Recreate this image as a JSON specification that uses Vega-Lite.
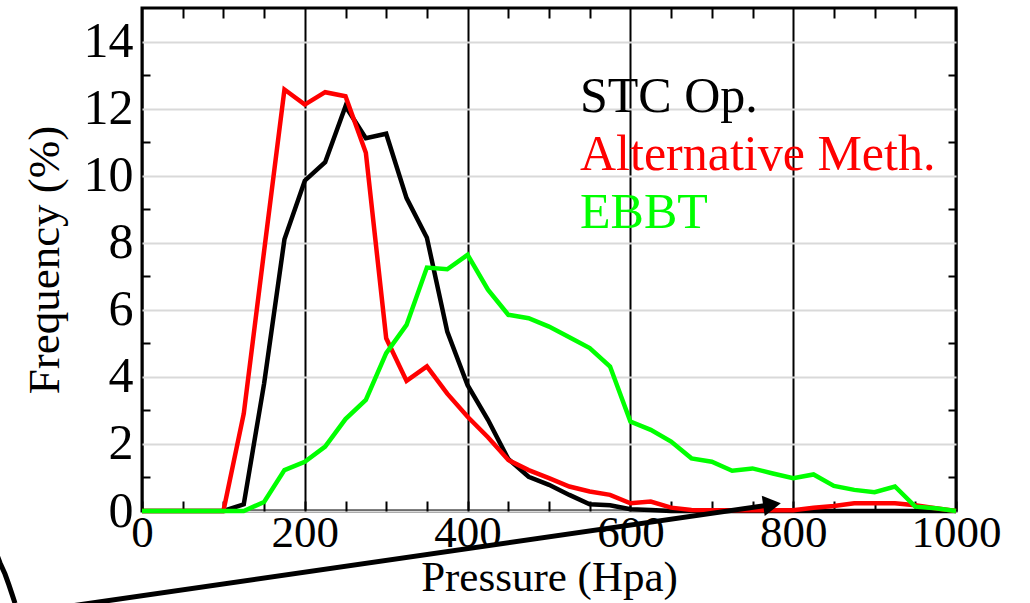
{
  "$schema": "https://vega.github.io/schema/vega-lite/v6.json",
  "width": 814,
  "height": 503,
  "autosize": {"type": "none"},
  "padding": {"left": 142, "top": 8, "right": 74, "bottom": 92},
  "background": "white",
  "config": {"view": {"stroke": "black", "strokeWidth": 3}, "font": "Liberation Serif"},
  "datasets": {
    "freq": [
      {"p":0,"f":0,"s":"STC Op."},{"p":25,"f":0,"s":"STC Op."},{"p":50,"f":0,"s":"STC Op."},{"p":75,"f":0,"s":"STC Op."},{"p":100,"f":0,"s":"STC Op."},{"p":125,"f":0.2,"s":"STC Op."},{"p":150,"f":3.8,"s":"STC Op."},{"p":175,"f":8.1,"s":"STC Op."},{"p":200,"f":9.85,"s":"STC Op."},{"p":225,"f":10.4,"s":"STC Op."},{"p":250,"f":12.07,"s":"STC Op."},{"p":275,"f":11.12,"s":"STC Op."},{"p":300,"f":11.25,"s":"STC Op."},{"p":325,"f":9.33,"s":"STC Op."},{"p":350,"f":8.15,"s":"STC Op."},{"p":375,"f":5.35,"s":"STC Op."},{"p":400,"f":3.75,"s":"STC Op."},{"p":425,"f":2.72,"s":"STC Op."},{"p":450,"f":1.55,"s":"STC Op."},{"p":475,"f":1.02,"s":"STC Op."},{"p":500,"f":0.78,"s":"STC Op."},{"p":525,"f":0.48,"s":"STC Op."},{"p":550,"f":0.2,"s":"STC Op."},{"p":575,"f":0.17,"s":"STC Op."},{"p":600,"f":0.05,"s":"STC Op."},{"p":625,"f":0.03,"s":"STC Op."},{"p":650,"f":0,"s":"STC Op."},{"p":675,"f":0,"s":"STC Op."},{"p":700,"f":0,"s":"STC Op."},{"p":725,"f":0,"s":"STC Op."},{"p":750,"f":0,"s":"STC Op."},{"p":775,"f":0,"s":"STC Op."},{"p":800,"f":0,"s":"STC Op."},{"p":825,"f":0,"s":"STC Op."},{"p":850,"f":0,"s":"STC Op."},{"p":875,"f":0,"s":"STC Op."},{"p":900,"f":0,"s":"STC Op."},{"p":925,"f":0,"s":"STC Op."},{"p":950,"f":0,"s":"STC Op."},{"p":975,"f":0,"s":"STC Op."},{"p":1000,"f":0,"s":"STC Op."},
      {"p":0,"f":0,"s":"Alternative Meth."},{"p":25,"f":0,"s":"Alternative Meth."},{"p":50,"f":0,"s":"Alternative Meth."},{"p":75,"f":0,"s":"Alternative Meth."},{"p":100,"f":0,"s":"Alternative Meth."},{"p":125,"f":2.9,"s":"Alternative Meth."},{"p":150,"f":7.75,"s":"Alternative Meth."},{"p":175,"f":12.57,"s":"Alternative Meth."},{"p":200,"f":12.12,"s":"Alternative Meth."},{"p":225,"f":12.49,"s":"Alternative Meth."},{"p":250,"f":12.37,"s":"Alternative Meth."},{"p":275,"f":10.68,"s":"Alternative Meth."},{"p":300,"f":5.15,"s":"Alternative Meth."},{"p":325,"f":3.88,"s":"Alternative Meth."},{"p":350,"f":4.31,"s":"Alternative Meth."},{"p":375,"f":3.5,"s":"Alternative Meth."},{"p":400,"f":2.81,"s":"Alternative Meth."},{"p":425,"f":2.2,"s":"Alternative Meth."},{"p":450,"f":1.52,"s":"Alternative Meth."},{"p":475,"f":1.22,"s":"Alternative Meth."},{"p":500,"f":0.98,"s":"Alternative Meth."},{"p":525,"f":0.73,"s":"Alternative Meth."},{"p":550,"f":0.58,"s":"Alternative Meth."},{"p":575,"f":0.48,"s":"Alternative Meth."},{"p":600,"f":0.23,"s":"Alternative Meth."},{"p":625,"f":0.28,"s":"Alternative Meth."},{"p":650,"f":0.1,"s":"Alternative Meth."},{"p":675,"f":0.03,"s":"Alternative Meth."},{"p":700,"f":0.02,"s":"Alternative Meth."},{"p":725,"f":0.02,"s":"Alternative Meth."},{"p":750,"f":0.02,"s":"Alternative Meth."},{"p":775,"f":0.02,"s":"Alternative Meth."},{"p":800,"f":0.02,"s":"Alternative Meth."},{"p":825,"f":0.1,"s":"Alternative Meth."},{"p":850,"f":0.15,"s":"Alternative Meth."},{"p":875,"f":0.23,"s":"Alternative Meth."},{"p":900,"f":0.23,"s":"Alternative Meth."},{"p":925,"f":0.23,"s":"Alternative Meth."},{"p":950,"f":0.17,"s":"Alternative Meth."},{"p":975,"f":0.08,"s":"Alternative Meth."},{"p":1000,"f":0,"s":"Alternative Meth."},
      {"p":0,"f":0,"s":"EBBT"},{"p":25,"f":0,"s":"EBBT"},{"p":50,"f":0,"s":"EBBT"},{"p":75,"f":0,"s":"EBBT"},{"p":100,"f":0,"s":"EBBT"},{"p":125,"f":0,"s":"EBBT"},{"p":150,"f":0.27,"s":"EBBT"},{"p":175,"f":1.22,"s":"EBBT"},{"p":200,"f":1.47,"s":"EBBT"},{"p":225,"f":1.92,"s":"EBBT"},{"p":250,"f":2.74,"s":"EBBT"},{"p":275,"f":3.31,"s":"EBBT"},{"p":300,"f":4.71,"s":"EBBT"},{"p":325,"f":5.55,"s":"EBBT"},{"p":350,"f":7.26,"s":"EBBT"},{"p":375,"f":7.21,"s":"EBBT"},{"p":400,"f":7.64,"s":"EBBT"},{"p":425,"f":6.6,"s":"EBBT"},{"p":450,"f":5.85,"s":"EBBT"},{"p":475,"f":5.75,"s":"EBBT"},{"p":500,"f":5.5,"s":"EBBT"},{"p":525,"f":5.18,"s":"EBBT"},{"p":550,"f":4.86,"s":"EBBT"},{"p":575,"f":4.31,"s":"EBBT"},{"p":600,"f":2.67,"s":"EBBT"},{"p":625,"f":2.42,"s":"EBBT"},{"p":650,"f":2.07,"s":"EBBT"},{"p":675,"f":1.57,"s":"EBBT"},{"p":700,"f":1.47,"s":"EBBT"},{"p":725,"f":1.2,"s":"EBBT"},{"p":750,"f":1.27,"s":"EBBT"},{"p":775,"f":1.12,"s":"EBBT"},{"p":800,"f":0.98,"s":"EBBT"},{"p":825,"f":1.09,"s":"EBBT"},{"p":850,"f":0.75,"s":"EBBT"},{"p":875,"f":0.63,"s":"EBBT"},{"p":900,"f":0.56,"s":"EBBT"},{"p":925,"f":0.73,"s":"EBBT"},{"p":950,"f":0.13,"s":"EBBT"},{"p":975,"f":0.08,"s":"EBBT"},{"p":1000,"f":0,"s":"EBBT"}
    ],
    "annot": [
      {"ax":-100.7,"ay":-2.88,"part":"arrow"},
      {"ax":774,"ay":0.19,"part":"arrow"},
      {"ax":-178.1,"ay":-1.31,"part":"arc"},
      {"ax":-174.4,"ay":-1.55,"part":"arc"},
      {"ax":-168.3,"ay":-1.88,"part":"arc"},
      {"ax":-163.4,"ay":-2.21,"part":"arc"},
      {"ax":-159.7,"ay":-2.48,"part":"arc"},
      {"ax":-156,"ay":-2.75,"part":"arc"}
    ],
    "head": [{"ax":774,"ay":0.19}]
  },
  "resolve": {"axis": {"x": "independent", "y": "independent"}},
  "layer": [
    {
      "data": {"name": "freq"},
      "mark": {"type": "line", "strokeJoin": "miter"},
      "encoding": {
        "x": {
          "field": "p", "type": "quantitative",
          "scale": {"domain": [0, 1000], "nice": false, "zero": false},
          "axis": {
            "orient": "bottom",
            "values": [0,50,100,150,200,250,300,350,400,450,500,550,600,650,700,750,800,850,900,950,1000],
            "format": "d",
            "labelExpr": "datum.value % 200 === 0 ? datum.label : ''",
            "labelFont": "Liberation Serif", "labelFontSize": 45, "labelColor": "black",
            "labelPadding": 9, "labelOverlap": false, "labelFlush": false,
            "domain": false,
            "grid": true,
            "gridColor": {"condition": {"test": "datum.value % 200 === 0", "value": "black"}, "value": "transparent"},
            "gridWidth": 2, "gridOpacity": 1,
            "ticks": true, "tickSize": -10, "tickWidth": 2, "tickColor": "black",
            "title": "Pressure (Hpa)",
            "titleFont": "Liberation Serif", "titleFontSize": 43, "titleFontWeight": "normal", "titleColor": "black",
            "titlePadding": 1
          }
        },
        "y": {
          "field": "f", "type": "quantitative",
          "scale": {"domain": [0, 15], "nice": false},
          "axis": {
            "orient": "left",
            "values": [0,1,2,3,4,5,6,7,8,9,10,11,12,13,14],
            "labelExpr": "datum.value % 2 === 0 ? datum.label : ''",
            "labelFont": "Liberation Serif", "labelFontSize": 50, "labelColor": "black",
            "labelPadding": 17, "labelOverlap": false, "labelFlush": false,
            "domain": false,
            "grid": true,
            "gridColor": {"condition": {"test": "datum.value % 2 === 0", "value": "#d9d9d9"}, "value": "transparent"},
            "gridWidth": 2, "gridOpacity": 1,
            "ticks": true, "tickSize": -8, "tickWidth": 2,
            "tickColor": {"condition": {"test": "datum.value % 2 === 1", "value": "black"}, "value": "transparent"},
            "title": "Frequency (%)",
            "titleFont": "Liberation Serif", "titleFontSize": 45, "titleFontWeight": "normal", "titleColor": "black",
            "titlePadding": 16
          }
        },
        "color": {
          "field": "s", "type": "nominal",
          "scale": {"domain": ["STC Op.", "Alternative Meth.", "EBBT"], "range": ["#000000", "#ff0000", "#00ff00"]},
          "legend": {
            "orient": "none", "legendX": 388, "legendY": 64,
            "title": null,
            "labelFont": "Liberation Serif", "labelFontSize": 50,
            "symbolOpacity": 0, "symbolSize": 0, "symbolStrokeWidth": 0,
            "labelOffset": 0, "rowPadding": 8, "padding": 0, "labelLimit": 0,
            "encode": {"labels": {"update": {"fill": {"scale": "color", "field": "value"}}}}
          }
        },
        "strokeWidth": {
          "field": "s", "type": "nominal",
          "scale": {"domain": ["STC Op.", "Alternative Meth.", "EBBT"], "range": [4.5, 4.5, 3.2]},
          "legend": null
        }
      }
    },
    {
      "data": {"name": "annot"},
      "mark": {"type": "line", "clip": false, "color": "black", "strokeWidth": 5},
      "encoding": {
        "x": {
          "field": "ax", "type": "quantitative",
          "axis": {
            "orient": "top",
            "values": [50,100,150,250,300,350,450,500,550,650,700,750,850,900,950],
            "labels": false, "domain": false, "grid": false,
            "ticks": true, "tickSize": -10, "tickWidth": 2, "tickColor": "black",
            "title": null
          }
        },
        "y": {
          "field": "ay", "type": "quantitative",
          "axis": {
            "orient": "right",
            "values": [1,3,5,7,9,11,13],
            "labels": false, "domain": false, "grid": false,
            "ticks": true, "tickSize": -8, "tickWidth": 2, "tickColor": "black",
            "title": null
          }
        },
        "detail": {"field": "part", "type": "nominal"}
      }
    },
    {
      "data": {"name": "head"},
      "mark": {"type": "point", "shape": "triangle-right", "filled": true, "color": "black", "size": 420, "angle": 351.8, "opacity": 1, "clip": false},
      "encoding": {
        "x": {"field": "ax", "type": "quantitative", "axis": null},
        "y": {"field": "ay", "type": "quantitative", "axis": null}
      }
    }
  ]
}
